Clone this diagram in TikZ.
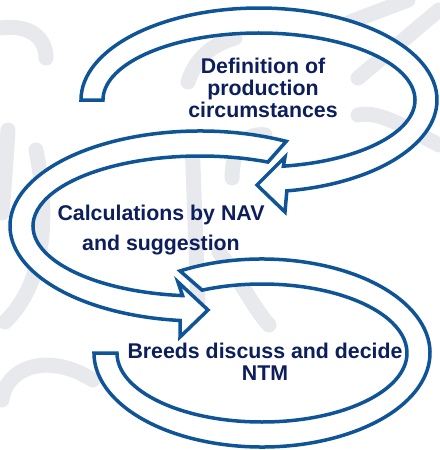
\documentclass[tikz,border=0pt]{standalone}
\usepackage{fontspec}
\setmainfont{Liberation Sans}
\usetikzlibrary{calc}
\definecolor{arrowblue}{RGB}{16,84,152}
\definecolor{labelnavy}{RGB}{12,30,92}
\definecolor{smudgegray}{RGB}{231,233,236}
\tikzset{
	band/.style={draw=arrowblue, line width=1.05mm, fill=white, line join=miter},
	lbl/.style={text=labelnavy, font=\bfseries\fontsize{18.2}{18.5}\selectfont, align=center},
	smudge/.style={draw=smudgegray, line width=4.5mm, line cap=round}
}

\begin{document}
\begin{tikzpicture}[scale=0.03]
		%%%%% START %%%%%
		
		\fill[white] (0, 0) rectangle (439, 450);
		\useasboundingbox (0, 0) rectangle (439, 450);
		
		\draw[smudge] (0, 422) .. controls (30, 426) and (46, 412) .. (46, 392);
		\draw[smudge] (8, 320) .. controls (6, 290) and (4, 260) .. (2, 237);
		\draw[smudge] (36, 300) .. controls (48, 240) and (48, 170) .. (5, 128);
		\draw[smudge] (2, 50) .. controls (5, 80) and (45, 100) .. (93, 70);
		\draw[smudge] (192, 308) .. controls (194, 260) and (196, 200) .. (198, 150);
		\draw[smudge] (219, 198) .. controls (240, 170) and (255, 140) .. (269, 125);
		\draw[smudge] (188, 368) .. controls (195, 390) and (210, 405) .. (235, 412);
		\draw[smudge] (232, 272) .. controls (232, 300) and (245, 318) .. (265, 315);
		\draw[smudge] (350, 428) -- (408, 450);
		\draw[smudge] (358, 372) -- (439, 440);
		\draw[smudge] (358, 335) .. controls (380, 340) and (410, 320) .. (439, 305);
		
		\coordinate (lowc) at (262, 97);
		\coordinate (midc) at (200, 224);
		\coordinate (topc) at (259, 350);
		
		% third step, no head
		\draw[band] ($(lowc)+(119.2:168 and 94)$) arc[start angle=119.2, end angle=-180, x radius=168, y radius=94]
			-- ($(lowc)+(180:145 and 69)$) arc[start angle=-180, end angle=114.4, x radius=145, y radius=69] -- cycle;
		
		% second step
		\draw[band] ($(midc)+(63:190 and 95)$) arc[start angle=63, end angle=264, x radius=190, y radius=95]
			-- (180, 113) -- (208, 140) -- (178, 168)
			-- ($(midc)+(264:167 and 70)$) arc[start angle=264, end angle=66, x radius=167, y radius=70] -- cycle;
		
		% first step
		\draw[band] ($(topc)+(180:178 and 92)$) arc[start angle=180, end angle=-81, x radius=178, y radius=92]
			-- (285, 238) -- (257, 265) -- (285, 293)
			-- ($(topc)+(-81:156 and 67)$) arc[start angle=-81, end angle=180, x radius=156, y radius=67] -- cycle;
		
		\node[lbl] (defn) at (263, 362) {Definition of\\production\\circumstances};
		\node[lbl] (calcs) at (161, 220) {Calculations by NAV\\[7pt]and suggestion};
		\node[lbl] (breeds) at (265, 88) {Breeds discuss and decide\\NTM};
		
		%%%%% END %%%%%
	\end{tikzpicture}
\end{document}
